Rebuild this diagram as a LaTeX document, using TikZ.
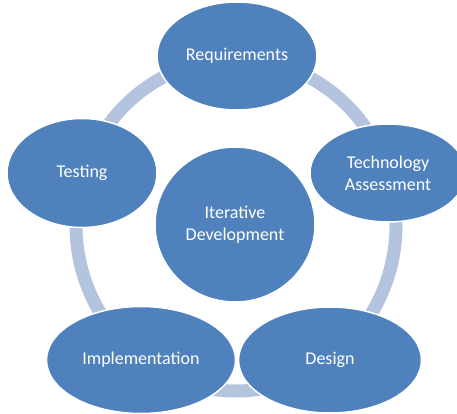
\documentclass[tikz,border=0pt]{standalone}
\usepackage{fontspec}
\setmainfont{Carlito}
\usepackage{tikz}
\usetikzlibrary{shapes.geometric,positioning}
\definecolor{nodeblue}{RGB}{79,129,189}
\definecolor{ringblue}{RGB}{180,196,222}

\begin{document}
\begin{tikzpicture}[x=1pt,y=-1pt]
    \tikzset{phase/.style={ellipse, fill=nodeblue, draw=white, line width=1.5pt,
            inner sep=0pt, text=white, align=center,
            font=\fontsize{18}{22}\selectfont},
        ring/.style={draw=ringblue, line width=13pt},}
    \useasboundingbox (0,0) rectangle (457,414);
    \clip (0,0) rectangle (457,414);
    \coordinate (hub) at (236,225);
    % cycle ring behind the phases
    \draw[ring] (hub) ellipse [x radius=160, y radius=166];
    \node[phase, minimum width=160pt, minimum height=108pt] (req) at (237,56) {Requirements};
    \node[phase, minimum width=156pt, minimum height=98pt] (tech) at (388,173) {Technology\\Assessment};
    \node[phase, minimum width=183pt, minimum height=106pt] (design) at (330,360) {Design};
    \node[phase, minimum width=189pt, minimum height=107pt] (impl) at (141,360) {Implementation};
    \node[phase, minimum width=150pt, minimum height=109pt] (test) at (82,173) {Testing};
    \node[phase, minimum width=160pt, minimum height=155pt] (iter) at (235,224.5) {Iterative\\Development};
\end{tikzpicture}
\end{document}
